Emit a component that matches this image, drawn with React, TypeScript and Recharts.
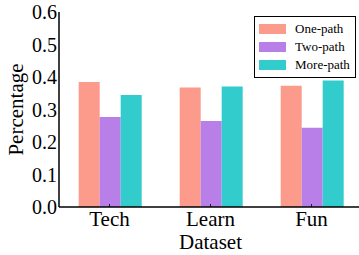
import { BarChart, Bar, XAxis, YAxis } from 'recharts';

const datasets = ['Tech', 'Learn', 'Fun'];
const onePath = [0.385, 0.368, 0.373];
const twoPath = [0.277, 0.265, 0.244];
const morePath = [0.345, 0.371, 0.389];
const yTicks = [0, 0.1, 0.2, 0.3, 0.4, 0.5, 0.6];

const SERIES = [
  { key: 'one', name: 'One-path', color: '#fc9a8c' },
  { key: 'two', name: 'Two-path', color: '#b87fe9' },
  { key: 'more', name: 'More-path', color: '#33cccc' },
];

const FONT = '"Liberation Serif", "DejaVu Serif", serif';

const data = datasets.map((d, i) => ({
  name: d,
  one: onePath[i],
  two: twoPath[i],
  more: morePath[i],
}));

// legend drawn outside the chart so it doesn't eat plot width
function LegendBox() {
  return (
    <div
      style={{
        position: 'absolute',
        left: 254,
        top: 16,
        width: 92,
        border: '1px solid #000',
        background: '#fff',
        padding: '3px 4px 3px 4px',
        fontFamily: FONT,
        fontSize: 13,
        lineHeight: '18px',
      }}
    >
      {SERIES.map(s => (
        <div key={s.key} style={{ display: 'flex', alignItems: 'center' }}>
          <span style={{ display: 'inline-block', width: 27, height: 10, background: s.color, marginRight: 9 }} />
          <span>{s.name}</span>
        </div>
      ))}
    </div>
  );
}

export default function App() {
  return (
    <div style={{ position: 'absolute', left: 0, top: 0, width: 359, height: 255, overflow: 'hidden', background: '#fff' }}>
      <BarChart
        width={380}
        height={255}
        data={data}
        margin={{ top: 12, right: 18, left: 0, bottom: 0 }}
        barCategoryGap="19.5%"
        barGap={0}
      >
        {SERIES.map(s => (
          <Bar key={s.key} dataKey={s.key} name={s.name} fill={s.color} isAnimationActive={false} />
        ))}
        <XAxis
          dataKey="name"
          height={48}
          axisLine={{ stroke: '#000', strokeWidth: 1.5 }}
          tickLine={{ stroke: '#000', strokeWidth: 0.8 }}
          tickSize={-3}
          tickMargin={7}
          tick={{ fill: '#000', fontFamily: FONT, fontSize: 21 }}
          label={{ value: 'Dataset', position: 'insideBottom', offset: 6, fill: '#000', fontFamily: FONT, fontSize: 21 }}
        />
        <XAxis
          xAxisId="top"
          dataKey="name"
          orientation="top"
          height={0}
          axisLine={{ stroke: '#000', strokeWidth: 1.5 }}
          tickLine={{ stroke: '#000', strokeWidth: 0.8 }}
          tickSize={-3}
          tick={false}
        />
        <YAxis
          width={59}
          domain={[0, 0.6]}
          ticks={yTicks}
          interval={0}
          tickFormatter={(v: number) => v.toFixed(1)}
          axisLine={{ stroke: '#000', strokeWidth: 1.5 }}
          tickLine={false}
          tickSize={0}
          tickMargin={2}
          tick={{ fill: '#000', fontFamily: FONT, fontSize: 20 }}
          label={({ viewBox }: any) => (
            <text
              x={viewBox.x + 16}
              y={viewBox.y + viewBox.height / 2}
              transform={`rotate(-90, ${viewBox.x + 16}, ${viewBox.y + viewBox.height / 2})`}
              textAnchor="middle"
              dominantBaseline="central"
              fill="#000"
              fontFamily={FONT}
              fontSize={21}
            >
              Percentage
            </text>
          )}
        />
      </BarChart>
      <LegendBox />
    </div>
  );
}
